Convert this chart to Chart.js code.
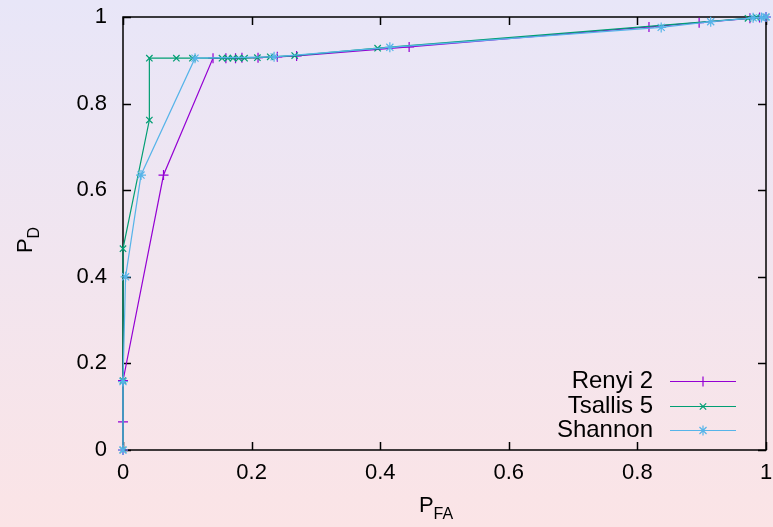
<!DOCTYPE html>
<html>
<head>
<meta charset="utf-8">
<script src="https://cdn.jsdelivr.net/npm/chart.js@4.4.0/dist/chart.umd.min.js"></script>
<style>
  html, body { margin: 0; padding: 0; }
  body { width: 773px; height: 527px; overflow: hidden;
         background: linear-gradient(to bottom, #e8e6f8 0%, #fbe4e6 100%); }
  #wrap { width: 773px; height: 527px; }
</style>
</head>
<body>
<div id="wrap"><canvas id="roc" width="773" height="527"></canvas></div>
<script>
// ROC curves, P_FA on x, P_D on y
const renyiX = [0, 0, 0, 0.063, 0.14, 0.16, 0.175, 0.185, 0.21, 0.24, 0.27, 0.445, 0.818, 0.896, 0.975, 0.99, 1];
const renyiY = [0, 0.065, 0.16, 0.635, 0.905, 0.905, 0.905, 0.906, 0.906, 0.908, 0.91, 0.931, 0.977, 0.987, 0.997, 0.999, 1];

const tsallisX = [0, 0, 0, 0.041, 0.041, 0.083, 0.108, 0.154, 0.163, 0.171, 0.18, 0.189, 0.209, 0.229, 0.267, 0.396, 0.972, 0.985, 1];
const tsallisY = [0, 0.16, 0.465, 0.762, 0.905, 0.905, 0.905, 0.905, 0.905, 0.905, 0.905, 0.905, 0.906, 0.908, 0.911, 0.928, 0.997, 0.999, 1];

const shannonX = [0, 0, 0.004, 0.028, 0.112, 0.235, 0.415, 0.837, 0.914, 0.98, 0.993, 1];
const shannonY = [0, 0.158, 0.4, 0.635, 0.905, 0.908, 0.93, 0.976, 0.989, 0.998, 0.999, 1];

const seriesNames = ["Renyi 2", "Tsallis 5", "Shannon"];
const tickValues = [0, 0.2, 0.4, 0.6, 0.8, 1];

const FONT = "'Liberation Sans', Arial, sans-serif";

function toPoints(xs, ys) {
  return xs.map((x, i) => ({ x: x, y: ys[i] }));
}

function makeSet(label, xs, ys, color, style, radius, order) {
  return {
    label: label,
    data: toPoints(xs, ys),
    order: order, // later gnuplot curves sit on top
    showLine: true,
    clip: false,
    borderColor: color,
    backgroundColor: color,
    borderWidth: 1.2,
    pointStyle: style,
    pointRadius: radius,
    pointBorderWidth: 1.2,
    pointBorderColor: color,
    tension: 0,
  };
}

// keep the plot box where gnuplot put it, no label padding added by Chart.js
function fixBox(size, prop) {
  return (s) => {
    s[prop] = size;
    s.paddingTop = 0; s.paddingBottom = 0;
    s.paddingLeft = 0; s.paddingRight = 0;
  };
}

// gnuplot style: box, inward ticks on all four sides, legend bottom right, subscripted titles
const gnuplotLook = {
  id: "gnuplotLook",
  beforeDatasetsDraw(chart) {
    const ctx = chart.ctx;
    const a = chart.chartArea;
    const xs = chart.scales.x, ys = chart.scales.y;
    const t = 8;
    ctx.save();
    ctx.strokeStyle = "#000";
    ctx.lineWidth = 1.5;
    ctx.beginPath();
    tickValues.forEach((v) => {
      const px = Math.round(xs.getPixelForValue(v)) + 0.5;
      ctx.moveTo(px, a.bottom); ctx.lineTo(px, a.bottom - t);
      ctx.moveTo(px, a.top); ctx.lineTo(px, a.top + t);
      const py = Math.round(ys.getPixelForValue(v)) + 0.5;
      ctx.moveTo(a.left, py); ctx.lineTo(a.left + t, py);
      ctx.moveTo(a.right, py); ctx.lineTo(a.right - t, py);
    });
    ctx.stroke();
    ctx.strokeRect(a.left, a.top, a.right - a.left, a.bottom - a.top);
    ctx.restore();
  },
  afterDraw(chart) {
    const ctx = chart.ctx;
    ctx.save();

    // legend
    ctx.font = "24px " + FONT;
    ctx.fillStyle = "#000";
    ctx.textAlign = "right";
    ctx.textBaseline = "middle";
    const rows = [381, 406, 430];
    chart.data.datasets.forEach((ds, i) => {
      const y = rows[i];
      ctx.fillText(seriesNames[i], 653, y);
      ctx.strokeStyle = ds.borderColor;
      ctx.lineWidth = 1.2;
      ctx.beginPath();
      ctx.moveTo(670, y + 0.5); ctx.lineTo(736, y + 0.5);
      ctx.stroke();
      Chart.helpers.drawPoint(ctx, {
        pointStyle: ds.pointStyle, radius: ds.pointRadius, borderWidth: 1.2, rotation: 0
      }, 703, y + 0.5);
    });

    // axis titles
    ctx.textAlign = "left";
    ctx.textBaseline = "alphabetic";
    ctx.fillStyle = "#000";
    ctx.font = "22px " + FONT;
    const pw = ctx.measureText("P").width;
    ctx.font = "16px " + FONT;
    const fw = ctx.measureText("FA").width;
    const x0 = 436 - (pw + fw) / 2;
    ctx.font = "22px " + FONT;
    ctx.fillText("P", x0, 512);
    ctx.font = "16px " + FONT;
    ctx.fillText("FA", x0 + pw, 519);

    ctx.translate(32, 240);
    ctx.rotate(-Math.PI / 2);
    ctx.font = "16px " + FONT;
    const dw = ctx.measureText("D").width;
    ctx.font = "22px " + FONT;
    ctx.fillText("P", -(pw + dw) / 2, 0);
    ctx.font = "16px " + FONT;
    ctx.fillText("D", -(pw + dw) / 2 + pw, 7);
    ctx.restore();
  }
};

const fmt = (v) => String(+Number(v).toFixed(1));

new Chart(document.getElementById("roc"), {
  type: "scatter",
  data: {
    datasets: [
      makeSet(seriesNames[0], renyiX, renyiY, "#9400d3", "cross", 5, 2),
      makeSet(seriesNames[1], tsallisX, tsallisY, "#009e73", "crossRot", 4.5, 1),
      makeSet(seriesNames[2], shannonX, shannonY, "#56b4e9", "star", 5, 0),
    ],
  },
  options: {
    responsive: false,
    animation: false,
    layout: { padding: { left: 0, right: 7, top: 17, bottom: 0 } },
    plugins: {
      legend: { display: false },
      tooltip: { enabled: false },
    },
    scales: {
      x: {
        type: "linear",
        min: 0, max: 1,
        afterFit: fixBox(77, "height"),
        afterBuildTicks: (s) => { s.ticks = tickValues.map((v) => ({ value: v })); },
        grid: { display: false, drawTicks: false },
        border: { display: false },
        ticks: { color: "#000", padding: 10, maxRotation: 0, callback: fmt,
                 font: { family: FONT, size: 22 } },
      },
      y: {
        type: "linear",
        min: 0, max: 1,
        afterFit: fixBox(123, "width"),
        afterBuildTicks: (s) => { s.ticks = tickValues.map((v) => ({ value: v })); },
        grid: { display: false, drawTicks: false },
        border: { display: false },
        ticks: { color: "#000", padding: 16, callback: fmt,
                 font: { family: FONT, size: 22 } },
      },
    },
  },
  plugins: [gnuplotLook],
});
</script>
</body>
</html>
